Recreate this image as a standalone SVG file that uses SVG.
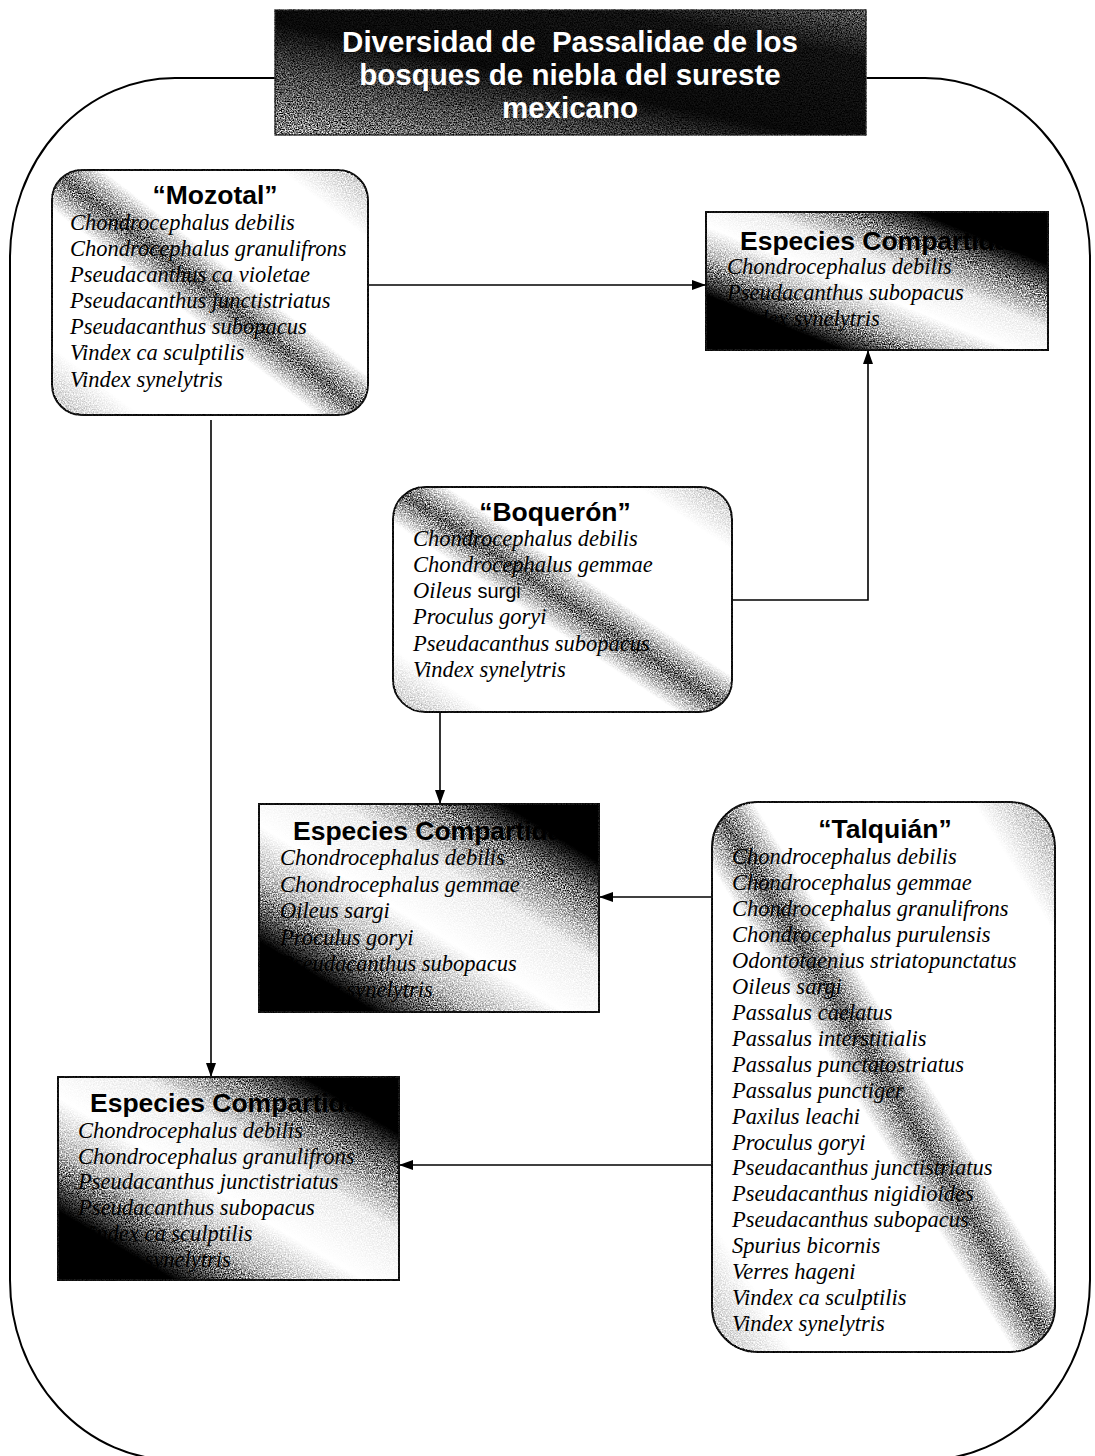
<svg xmlns="http://www.w3.org/2000/svg" width="1095" height="1456" viewBox="0 0 1095 1456">
<style>
.frame{fill:none;stroke:#000;stroke-width:2}
.box{stroke:#111;stroke-width:2}
.ttl{font-family:"Liberation Sans",Arial,sans-serif;font-weight:bold;font-size:29.5px;fill:#fff;text-anchor:middle;white-space:pre}
.hd{font-family:"Liberation Sans",Arial,sans-serif;font-weight:bold;font-size:26.5px;fill:#000}
.hdc{text-anchor:middle}
.sp{font-family:"Liberation Serif","Times New Roman",serif;font-style:italic;font-size:22.5px;fill:#000}
.sans{font-family:"Liberation Sans",Arial,sans-serif;font-style:normal;font-size:20px}
.con{fill:none;stroke:#000;stroke-width:1.6}
</style>
<defs>
<filter id="grain" x="-2%" y="-2%" width="104%" height="104%" color-interpolation-filters="sRGB">
<feTurbulence type="fractalNoise" baseFrequency="0.75" numOctaves="2" seed="7" result="n"/>
<feColorMatrix in="n" type="matrix" values="2.2 0 0 0 -0.6  2.2 0 0 0 -0.6  2.2 0 0 0 -0.6  0 0 0 0 1" result="g"/>
<feBlend in="g" in2="SourceGraphic" mode="overlay" result="b"/>
<feComposite in="b" in2="SourceGraphic" operator="in"/>
</filter>
<linearGradient id="gBanner" x1="0" y1="1" x2="1" y2="0">
<stop offset="0" stop-color="#8a8a8a"/><stop offset="0.25" stop-color="#4a4a4a"/><stop offset="0.45" stop-color="#0a0a0a"/><stop offset="0.8" stop-color="#111"/><stop offset="1" stop-color="#555"/>
</linearGradient>
<linearGradient id="gRound" x1="0" y1="1" x2="1" y2="0">
<stop offset="0" stop-color="#c4c4c4"/><stop offset="0.14" stop-color="#fff"/><stop offset="0.42" stop-color="#fff"/><stop offset="0.5" stop-color="#666"/><stop offset="0.58" stop-color="#fff"/><stop offset="0.86" stop-color="#fff"/><stop offset="1" stop-color="#c4c4c4"/>
</linearGradient>
<linearGradient id="gTal" x1="0" y1="1" x2="1" y2="0">
<stop offset="0" stop-color="#c4c4c4"/><stop offset="0.12" stop-color="#fff"/><stop offset="0.44" stop-color="#fff"/><stop offset="0.5" stop-color="#666"/><stop offset="0.56" stop-color="#fff"/><stop offset="0.88" stop-color="#fff"/><stop offset="1" stop-color="#aaa"/>
</linearGradient>
<linearGradient id="gEsp" x1="0" y1="1" x2="1" y2="0">
<stop offset="0" stop-color="#000"/><stop offset="0.17" stop-color="#000"/><stop offset="0.32" stop-color="#bbb"/><stop offset="0.45" stop-color="#fff"/><stop offset="0.62" stop-color="#eee"/><stop offset="0.76" stop-color="#777"/><stop offset="0.86" stop-color="#000"/><stop offset="1" stop-color="#000"/>
</linearGradient>
<linearGradient id="gEsp1" x1="0" y1="1" x2="1" y2="0">
<stop offset="0" stop-color="#000"/><stop offset="0.2" stop-color="#000"/><stop offset="0.34" stop-color="#bbb"/><stop offset="0.45" stop-color="#fff"/><stop offset="0.58" stop-color="#eee"/><stop offset="0.71" stop-color="#777"/><stop offset="0.81" stop-color="#000"/><stop offset="1" stop-color="#000"/>
</linearGradient>
<marker id="ah" viewBox="0 0 14 10" refX="14" refY="5" markerWidth="14" markerHeight="10" orient="auto" markerUnits="userSpaceOnUse"><path d="M0,0 L14,5 L0,10 z" fill="#000"/></marker>
</defs>
<rect width="1095" height="1456" fill="#fff"/>
<rect class="frame" x="10" y="78" width="1080" height="1382" rx="165" ry="180"/>
<g id="title">
<rect x="275" y="10" width="591" height="125" fill="url(#gBanner)" stroke="#222" stroke-width="1.5" filter="url(#grain)"/>
<text class="ttl" x="570" y="52" xml:space="preserve">Diversidad de  Passalidae de los</text>
<text class="ttl" x="570" y="85">bosques de niebla del sureste</text>
<text class="ttl" x="570" y="118">mexicano</text>
</g>
<g id="connectors">
<path class="con" d="M368,285 H706" marker-end="url(#ah)"/>
<path class="con" d="M732,600 H868 V350" marker-end="url(#ah)"/>
<path class="con" d="M440,712 V804" marker-end="url(#ah)"/>
<path class="con" d="M712,897 H599" marker-end="url(#ah)"/>
<path class="con" d="M211,420 V1077" marker-end="url(#ah)"/>
<path class="con" d="M712,1165 H399" marker-end="url(#ah)"/>
</g>
<g id="mozotal">
<rect class="box" x="52" y="170" width="316" height="245" rx="30" fill="url(#gRound)" filter="url(#grain)"/>
<text class="hd hdc" x="215" y="204">“Mozotal”</text>
<text class="sp" x="70" y="230">Chondrocephalus debilis</text>
<text class="sp" x="70" y="256">Chondrocephalus granulifrons</text>
<text class="sp" x="70" y="282">Pseudacanthus ca violetae</text>
<text class="sp" x="70" y="308">Pseudacanthus junctistriatus</text>
<text class="sp" x="70" y="334">Pseudacanthus subopacus</text>
<text class="sp" x="70" y="360">Vindex ca sculptilis</text>
<text class="sp" x="70" y="387">Vindex synelytris</text>
</g>
<g id="especies1">
<rect class="box" x="706" y="212" width="342" height="138" fill="url(#gEsp1)" filter="url(#grain)"/>
<text class="hd" x="740" y="250">Especies Compartidas</text>
<text class="sp" x="727" y="274">Chondrocephalus debilis</text>
<text class="sp" x="727" y="300">Pseudacanthus subopacus</text>
<text class="sp" x="727" y="326">Vindex synelytris</text>
</g>
<g id="boqueron">
<rect class="box" x="393" y="487" width="339" height="225" rx="32" fill="url(#gRound)" filter="url(#grain)"/>
<text class="hd hdc" x="555" y="521">“Boquerón”</text>
<text class="sp" x="413" y="546">Chondrocephalus debilis</text>
<text class="sp" x="413" y="572">Chondrocephalus gemmae</text>
<text class="sp" x="413" y="598">Oileus <tspan class="sans">surgi</tspan></text>
<text class="sp" x="413" y="624">Proculus goryi</text>
<text class="sp" x="413" y="651">Pseudacanthus subopacus</text>
<text class="sp" x="413" y="677">Vindex synelytris</text>
</g>
<g id="especies2">
<rect class="box" x="259" y="804" width="340" height="208" fill="url(#gEsp)" filter="url(#grain)"/>
<text class="hd" x="293" y="840">Especies Compartidas</text>
<text class="sp" x="280" y="865">Chondrocephalus debilis</text>
<text class="sp" x="280" y="892">Chondrocephalus gemmae</text>
<text class="sp" x="280" y="918">Oileus sargi</text>
<text class="sp" x="280" y="945">Proculus goryi</text>
<text class="sp" x="280" y="971">Pseudacanthus subopacus</text>
<text class="sp" x="280" y="997">Vindex synelytris</text>
</g>
<g id="talquian">
<rect class="box" x="712" y="802" width="343" height="550" rx="45" fill="url(#gTal)" filter="url(#grain)"/>
<text class="hd hdc" x="885" y="838">“Talquián”</text>
<text class="sp" x="732" y="864">Chondrocephalus debilis</text>
<text class="sp" x="732" y="890">Chondrocephalus gemmae</text>
<text class="sp" x="732" y="916">Chondrocephalus granulifrons</text>
<text class="sp" x="732" y="942">Chondrocephalus purulensis</text>
<text class="sp" x="732" y="968">Odontotaenius striatopunctatus</text>
<text class="sp" x="732" y="994">Oileus sargi</text>
<text class="sp" x="732" y="1020">Passalus caelatus</text>
<text class="sp" x="732" y="1046">Passalus interstitialis</text>
<text class="sp" x="732" y="1072">Passalus punctatostriatus</text>
<text class="sp" x="732" y="1098">Passalus punctiger</text>
<text class="sp" x="732" y="1124">Paxilus leachi</text>
<text class="sp" x="732" y="1150">Proculus goryi</text>
<text class="sp" x="732" y="1175">Pseudacanthus junctistriatus</text>
<text class="sp" x="732" y="1201">Pseudacanthus nigidioides</text>
<text class="sp" x="732" y="1227">Pseudacanthus subopacus</text>
<text class="sp" x="732" y="1253">Spurius bicornis</text>
<text class="sp" x="732" y="1279">Verres hageni</text>
<text class="sp" x="732" y="1305">Vindex ca sculptilis</text>
<text class="sp" x="732" y="1331">Vindex synelytris</text>
</g>
<g id="especies3">
<rect class="box" x="58" y="1077" width="341" height="203" fill="url(#gEsp)" filter="url(#grain)"/>
<text class="hd" x="90" y="1112">Especies Compartidas</text>
<text class="sp" x="78" y="1138">Chondrocephalus debilis</text>
<text class="sp" x="78" y="1164">Chondrocephalus granulifrons</text>
<text class="sp" x="78" y="1189">Pseudacanthus junctistriatus</text>
<text class="sp" x="78" y="1215">Pseudacanthus subopacus</text>
<text class="sp" x="78" y="1241">Vindex ca sculptilis</text>
<text class="sp" x="78" y="1267">Vindex synelytris</text>
</g>
</svg>
